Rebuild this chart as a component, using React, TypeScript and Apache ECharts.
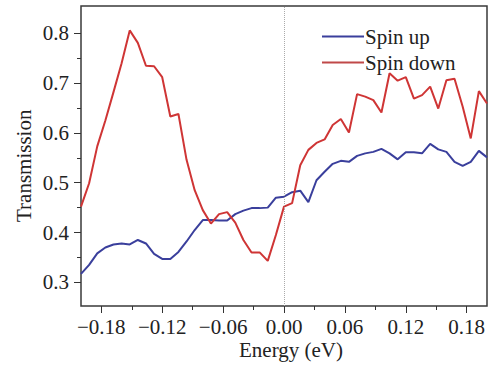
import React, { useEffect, useRef } from "react";
import * as echarts from "echarts";

const energy = [
  -0.2, -0.192, -0.184, -0.176, -0.168, -0.16, -0.152, -0.144, -0.136, -0.128,
  -0.12, -0.112, -0.104, -0.096, -0.088, -0.08, -0.072, -0.064, -0.056, -0.048,
  -0.04, -0.032, -0.024, -0.016, -0.008, 0.0, 0.008, 0.016, 0.024, 0.032,
  0.04, 0.048, 0.056, 0.064, 0.072, 0.08, 0.088, 0.096, 0.104, 0.112,
  0.12, 0.128, 0.136, 0.144, 0.152, 0.16, 0.168, 0.176, 0.184, 0.192, 0.2,
];

const spinUp = [
  0.317, 0.335, 0.358, 0.37, 0.376, 0.378, 0.376, 0.385, 0.378, 0.357,
  0.347, 0.347, 0.361, 0.382, 0.405, 0.425, 0.425, 0.424, 0.424, 0.437,
  0.444, 0.449, 0.449, 0.45, 0.47, 0.472, 0.481, 0.484, 0.461, 0.505,
  0.522, 0.538, 0.544, 0.542, 0.554, 0.559, 0.562, 0.568, 0.559, 0.547,
  0.561, 0.561, 0.559, 0.578, 0.567, 0.562, 0.542, 0.534, 0.542, 0.564, 0.551,
];

const spinDown = [
  0.452, 0.499, 0.573, 0.625, 0.682, 0.74, 0.806, 0.781, 0.735, 0.734,
  0.712, 0.633, 0.638, 0.546, 0.485, 0.445, 0.418, 0.437, 0.441, 0.42,
  0.385, 0.36, 0.36, 0.343, 0.395, 0.452, 0.459, 0.535, 0.566, 0.58,
  0.587, 0.616, 0.628, 0.601, 0.678, 0.673, 0.666, 0.641, 0.72, 0.705,
  0.712, 0.669, 0.676, 0.693, 0.649, 0.706, 0.709, 0.653, 0.589, 0.684, 0.659,
];

const seriesNames = ["Spin up", "Spin down"];
const xTitle = "Energy (eV)";
const yTitle = "Transmission";

const FONT = "'Liberation Serif', serif";
const TEXT = "#222";
const FS = 21;

export default function App() {
  const ref = useRef<HTMLDivElement>(null);
  useEffect(() => {
    if (!ref.current) return;
    const chart = echarts.init(ref.current, undefined, { renderer: "svg" });
    const fmtX = (v: number) => {
      const r = Math.round(v * 100) / 100;
      if (Math.abs(r) < 1e-9) return "0.00";
      return (r < 0 ? "\u2212" : "") + Math.abs(r).toFixed(2);
    };
    chart.setOption({
      animation: false,
      backgroundColor: "#fff",
      textStyle: { fontFamily: FONT },
      grid: [
        { left: 81, right: 7, top: 6, bottom: 59, show: true, borderColor: "#3a3a3a", borderWidth: 1.5, backgroundColor: "transparent" },
        { left: 101.3, right: 27.3, top: 6, bottom: 59 },
        { left: 81, right: 7, top: 33.4, bottom: 82.7 },
      ],
      xAxis: [
        { type: "value", gridIndex: 0, min: -0.2, max: 0.2, show: false },
        {
          type: "value", gridIndex: 1, min: -0.18, max: 0.18, interval: 0.06,
          axisLine: { show: false },
          axisTick: { show: true, inside: false, length: 7, lineStyle: { color: "#333", width: 1 } },
          minorTick: { show: true, splitNumber: 2, length: 4, lineStyle: { color: "#333", width: 1 } },
          splitLine: { show: false },
          minorSplitLine: { show: false },
          axisLabel: { formatter: fmtX, fontSize: FS, color: TEXT, fontFamily: FONT, margin: 10 },
        },
        { type: "value", gridIndex: 2, min: 0, max: 1, show: false },
      ],
      yAxis: [
        { type: "value", gridIndex: 0, min: 0.2524, max: 0.855, show: false },
        { type: "value", gridIndex: 1, min: 0, max: 1, show: false },
        {
          type: "value", gridIndex: 2, min: 0.3, max: 0.8, interval: 0.1,
          axisLine: { show: false },
          axisTick: { show: true, inside: false, length: 7, lineStyle: { color: "#333", width: 1 } },
          minorTick: { show: true, splitNumber: 2, length: 4, lineStyle: { color: "#333", width: 1 } },
          splitLine: { show: false },
          minorSplitLine: { show: false },
          axisLabel: { formatter: (v: number) => v.toFixed(1), fontSize: FS, color: TEXT, fontFamily: FONT, margin: 12 },
        },
      ],
      legend: {
        orient: "vertical",
        left: 317,
        top: 21,
        itemWidth: 42,
        itemHeight: 2,
        itemGap: 5,
        icon: "rect",
        textStyle: { fontSize: FS, color: TEXT, fontFamily: FONT, padding: [0, 0, 0, -4] },
        data: seriesNames,
      },
      graphic: [
        {
          type: "text", left: 239, top: 339,
          style: { text: xTitle, fontSize: FS, fill: TEXT, fontFamily: FONT },
        },
        {
          type: "text", x: 13, y: 222, rotation: Math.PI / 2,
          style: { text: yTitle, fontSize: FS, fill: TEXT, fontFamily: FONT },
        },
      ],
      series: [
        {
          name: seriesNames[0], type: "line", xAxisIndex: 0, yAxisIndex: 0,
          data: energy.map((e, i) => [e, spinUp[i]]),
          showSymbol: false, symbol: "none",
          lineStyle: { color: "#3a3f9c", width: 2 },
          itemStyle: { color: "#3a3f9c" },
          z: 3,
          markLine: {
            silent: true, symbol: "none", label: { show: false },
            lineStyle: { type: "dotted", color: "#aaa", width: 1 },
            data: [{ xAxis: 0 }],
          },
        },
        {
          name: seriesNames[1], type: "line", xAxisIndex: 0, yAxisIndex: 0,
          data: energy.map((e, i) => [e, spinDown[i]]),
          showSymbol: false, symbol: "none",
          lineStyle: { color: "#cf3535", width: 2 },
          itemStyle: { color: "#c04848" },
          z: 4,
        },
      ],
    });
    return () => chart.dispose();
  }, []);
  return <div ref={ref} style={{ position: "absolute", left: 0, top: 0, width: 494, height: 365 }} />;
}
